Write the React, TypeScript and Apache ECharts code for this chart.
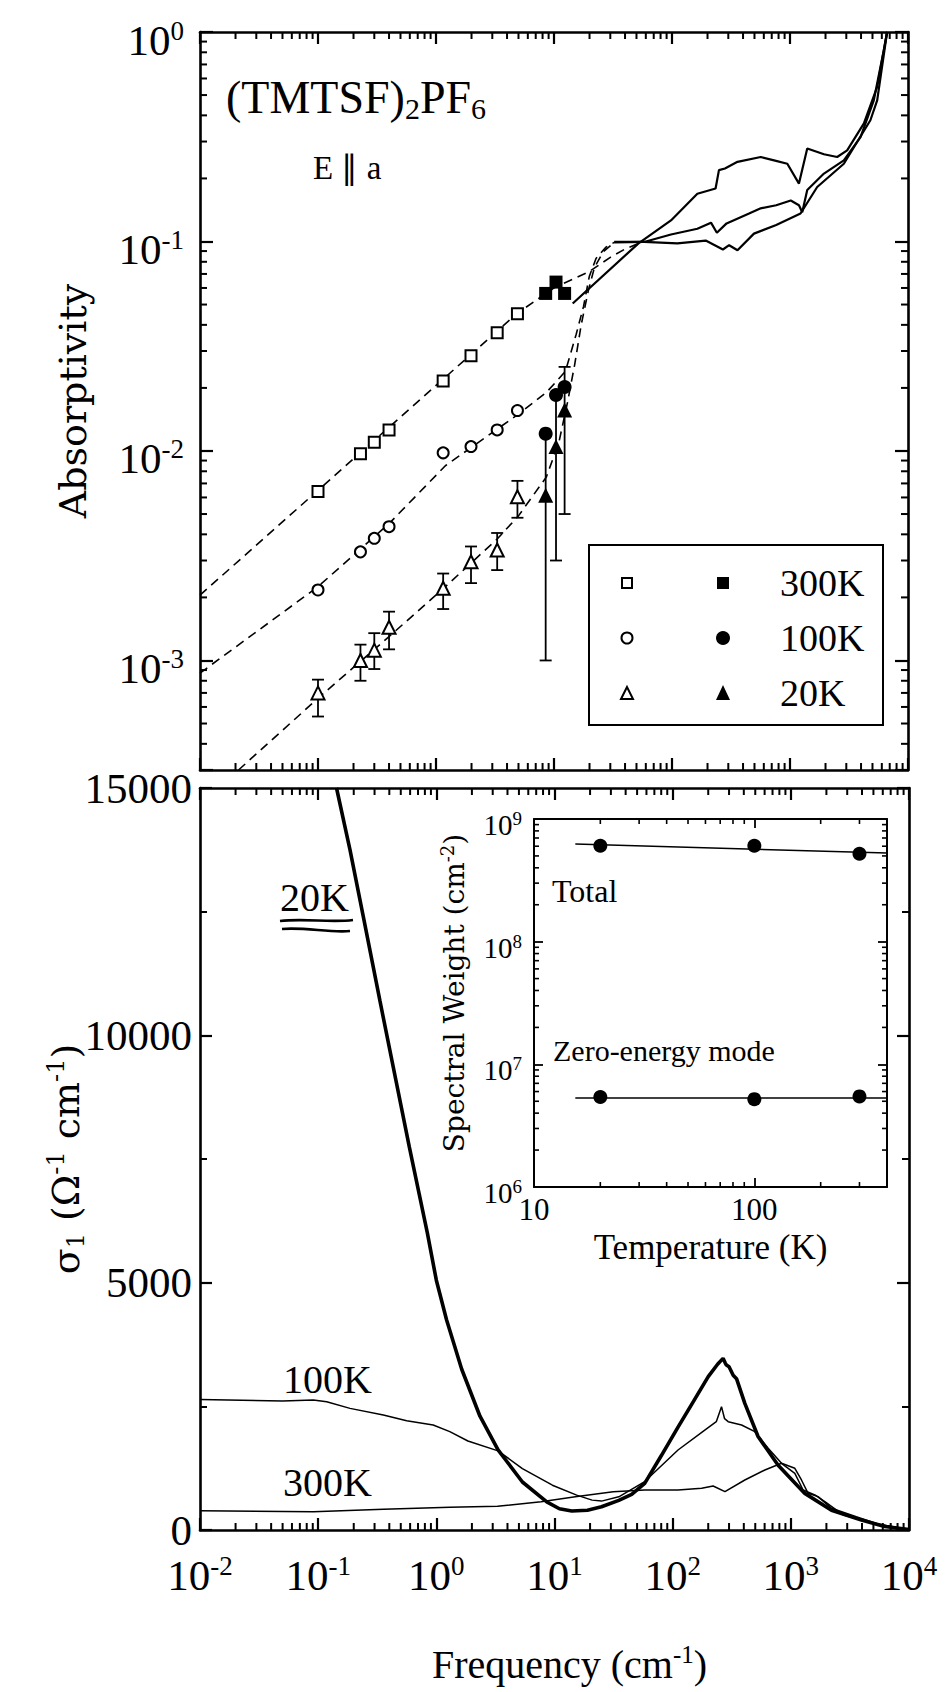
import React, { useEffect, useRef } from "react";
import * as echarts from "echarts";

const SERIF = "'Liberation Serif', 'Times New Roman', Times, serif";
const WIDE = "'DejaVu Serif', 'Liberation Serif', serif";
const INK = "#000";

// ---------- Absorptivity panel (upper) ----------
// microwave cavity frequencies (cm^-1), open symbols
const mwFreq = [0.1, 0.229, 0.3, 0.4, 1.15, 1.98, 3.3, 4.9];
const abs300 = [0.0064, 0.0097, 0.011, 0.0126, 0.0216, 0.0285, 0.0367, 0.0452];
const abs100 = [0.00217, 0.0033, 0.00383, 0.00435, 0.0098, 0.0105, 0.0126, 0.0156];
const abs20 = [0.0007, 0.001, 0.00112, 0.00144, 0.00221, 0.00296, 0.00337, 0.00604];
const abs20Lo = [0.00054, 0.0008, 0.00091, 0.00113, 0.00176, 0.00234, 0.0027, 0.0048];
const abs20Hi = [0.00081, 0.00119, 0.00135, 0.00171, 0.0026, 0.0035, 0.00406, 0.0072];

// quasi-optical frequencies (cm^-1), filled symbols
const qoFreq = [8.5, 10.4, 12.3];
const abs300Q = [0.0565, 0.064, 0.0565];
const abs100Q = [0.0121, 0.0185, 0.0202];
const abs20Q = [0.00615, 0.0105, 0.0157];
const abs20QLo = [0.001, 0.003, 0.005];
const abs20QHi = [0.012, 0.018, 0.0252];

// dashed model curves joining the low-frequency data to the infrared spectra
const fit300F = [0.01, 4.9, 10, 20, 30, 40, 52];
const fit300A = [0.00205, 0.0455, 0.06, 0.072, 0.084, 0.092, 0.098];
const fit100F = [0.01, 0.1, 0.4, 1.2, 5, 8.6, 12.5, 15.4, 17.8, 19.9, 22.7, 27.6, 32.4];
const fit100A = [0.00087, 0.00225, 0.0045, 0.0085, 0.015, 0.019, 0.024, 0.036, 0.049, 0.068, 0.083, 0.094, 0.099];
const fit20F = [0.0212, 0.1, 0.4, 1.15, 3.3, 5, 8.6, 11, 13, 15, 17, 19.5, 22, 26, 32.4];
const fit20A = [0.0003, 0.00066, 0.0013, 0.0022, 0.0038, 0.0049, 0.0075, 0.011, 0.017, 0.026, 0.04, 0.058, 0.075, 0.089, 0.099];

// infrared absorptivity spectra
const ir300F = [14.4, 52, 98, 164, 234, 250, 281, 359, 565, 733, 949, 1191, 1400, 1940, 2510, 3050, 4230, 5480, 6650];
const ir300A = [0.0506, 0.098, 0.126, 0.169, 0.179, 0.219, 0.223, 0.24, 0.253, 0.244, 0.235, 0.189, 0.278, 0.261, 0.253, 0.272, 0.366, 0.547, 1.0];
const ir100F = [32.4, 58, 98, 164, 214, 240, 290, 450, 565, 764, 1015, 1191, 1270, 1400, 1940, 2860, 3960, 5130, 6240, 6650];
const ir100A = [0.099, 0.0995, 0.108, 0.115, 0.123, 0.11, 0.122, 0.136, 0.144, 0.149, 0.157, 0.149, 0.138, 0.176, 0.211, 0.244, 0.315, 0.472, 0.818, 1.0];
const ir20F = [32.4, 58, 111, 193, 270, 305, 359, 495, 764, 1228, 1700, 2860, 4800, 5480, 6650];
const ir20A = [0.0995, 0.0995, 0.098, 0.101, 0.0916, 0.096, 0.0908, 0.109, 0.12, 0.136, 0.182, 0.235, 0.379, 0.472, 1.0];

// ---------- Optical conductivity panel (lower) ----------
const s20F = [0.143, 0.186, 0.241, 0.333, 0.59, 0.84, 1.0, 1.22, 1.64, 2.34, 3.33, 5.35, 8.6, 11, 14, 19, 25, 35, 45, 58, 80, 111, 150, 200, 240, 267, 278, 285, 300, 325, 347, 408, 528, 781, 1313, 2208, 3960, 6240, 10000];
const s20S = [15000, 13750, 12400, 10700, 7750, 6000, 5050, 4250, 3250, 2300, 1620, 970, 570, 430, 385, 400, 470, 600, 720, 944, 1500, 2080, 2600, 3100, 3350, 3470, 3380, 3335, 3300, 3130, 3060, 2560, 1890, 1310, 740, 400, 200, 70, 10];
const s100F = [0.01, 0.05, 0.091, 0.118, 0.186, 0.356, 0.561, 0.94, 1.3, 1.85, 3.33, 5.35, 9.6, 15.4, 20.8, 25, 35, 58, 111, 187, 234, 259, 275, 295, 383, 496, 643, 834, 1081, 1271, 1596, 1940, 2790, 5000, 10000];
const s100S = [2640, 2610, 2630, 2594, 2459, 2325, 2209, 2123, 1988, 1800, 1600, 1242, 906, 705, 604, 584, 671, 980, 1617, 2021, 2190, 2493, 2250, 2190, 2123, 1988, 1651, 1348, 1146, 809, 708, 572, 302, 134, 10];
const s300F = [0.01, 0.091, 0.356, 1.3, 3.3, 7.7, 15, 31.4, 58, 111, 176, 220, 277, 408, 603, 834, 1081, 1230, 1400, 1700, 2208, 3580, 5600, 10000];
const s300S = [391, 370, 418, 459, 480, 570, 671, 772, 809, 809, 843, 889, 775, 1011, 1213, 1348, 1247, 1011, 742, 674, 438, 268, 114, 10];

// ---------- Inset: spectral weight vs temperature ----------
const tempK = [20, 100, 300];
const swTotal = [6.05e8, 6.05e8, 5.21e8];
const swZero = [5.42e6, 5.2e6, 5.48e6];
const fitT = [15.4, 400];
const fitTotal = [6.26e8, 5.28e8];
const fitZero = [5.32e6, 5.32e6];

const pts = (xs: number[], ys: number[]) => xs.map((x, i) => [x, ys[i]]);

const isPow10 = (v: number) => Math.abs(Math.log10(v) - Math.round(Math.log10(v))) < 1e-6;
const pow10Label = (v: number) => (isPow10(v) ? `{b|10}{s|${Math.round(Math.log10(v))}}` : "");

function minorLogTicks(lo: number, hi: number): number[] {
  const out: number[] = [];
  for (let e = Math.floor(Math.log10(lo)); e <= Math.ceil(Math.log10(hi)); e++) {
    for (let m = 2; m <= 9; m++) {
      const v = m * Math.pow(10, e);
      if (v > lo * 1.0001 && v < hi * 0.9999) out.push(v);
    }
  }
  return out;
}

const bigRich = {
  b: { fontFamily: SERIF, fontSize: 43, lineHeight: 46, color: INK },
  s: { fontFamily: SERIF, fontSize: 27, lineHeight: 10, verticalAlign: "top", color: INK },
};
const smallRich = {
  b: { fontFamily: SERIF, fontSize: 29, lineHeight: 32, color: INK },
  s: { fontFamily: SERIF, fontSize: 19, lineHeight: 8, verticalAlign: "top", color: INK },
};

const line = (w: number) => ({ show: true, onZero: false, lineStyle: { color: INK, width: w } });
const tick = (len: number, w: number) => ({ show: true, inside: true, length: len, lineStyle: { color: INK, width: w } });
const noLabel = { show: false };
const noSplit = { show: false };

// minor ticks drawn along both edges of a grid, placed through the axis scales
function minorTickSeries(xi: number, yi: number, values: number[], dir: "x" | "y", lo: number, hi: number, len: number, width: number) {
  return {
    type: "custom",
    xAxisIndex: xi,
    yAxisIndex: yi,
    silent: true,
    z: 6,
    data: values.map((v) => (dir === "x" ? [v, lo] : [lo, v])),
    renderItem: (_p: any, api: any) => {
      const st = { stroke: INK, lineWidth: width };
      if (dir === "x") {
        const v = api.value(0);
        const a = api.coord([v, lo]);
        const b = api.coord([v, hi]);
        return {
          type: "group",
          children: [
            { type: "line", shape: { x1: a[0], y1: a[1], x2: a[0], y2: a[1] - len }, style: st },
            { type: "line", shape: { x1: b[0], y1: b[1], x2: b[0], y2: b[1] + len }, style: st },
          ],
        };
      }
      const v = api.value(1);
      const a = api.coord([lo, v]);
      const b = api.coord([hi, v]);
      return {
        type: "group",
        children: [
          { type: "line", shape: { x1: a[0], y1: a[1], x2: a[0] + len, y2: a[1] }, style: st },
          { type: "line", shape: { x1: b[0], y1: b[1], x2: b[0] - len, y2: b[1] }, style: st },
        ],
      };
    },
  };
}

function errorBars(xs: number[], lo: number[], hi: number[], cap: number) {
  return {
    type: "custom",
    xAxisIndex: 0,
    yAxisIndex: 0,
    silent: true,
    z: 7,
    data: xs.map((x, i) => [x, lo[i], hi[i]]),
    renderItem: (_p: any, api: any) => {
      const x = api.value(0);
      const a = api.coord([x, api.value(1)]);
      const b = api.coord([x, api.value(2)]);
      const st = { stroke: INK, lineWidth: 1.8 };
      return {
        type: "group",
        children: [
          { type: "line", shape: { x1: a[0], y1: a[1], x2: b[0], y2: b[1] }, style: st },
          { type: "line", shape: { x1: a[0] - cap, y1: a[1], x2: a[0] + cap, y2: a[1] }, style: st },
          { type: "line", shape: { x1: b[0] - cap, y1: b[1], x2: b[0] + cap, y2: b[1] }, style: st },
        ],
      };
    },
  };
}

function curve(xs: number[], ys: number[], width: number, xi: number, yi: number, dashed = false) {
  return {
    type: "line",
    xAxisIndex: xi,
    yAxisIndex: yi,
    silent: true,
    showSymbol: false,
    symbol: "none",
    clip: true,
    z: 4,
    lineStyle: { color: INK, width, opacity: 1, type: dashed ? [9, 6] : "solid" },
    data: pts(xs, ys),
  };
}

function markers(xs: number[], ys: number[], symbol: string, size: number, filled: boolean, xi = 0, yi = 0) {
  return {
    type: "scatter",
    xAxisIndex: xi,
    yAxisIndex: yi,
    silent: true,
    symbol,
    symbolSize: size,
    z: 10,
    itemStyle: filled
      ? { color: INK, borderWidth: 0, opacity: 1 }
      : { color: "#fff", borderColor: INK, borderWidth: 2, opacity: 1 },
    data: pts(xs, ys),
  };
}

function freqAxis(gridIndex: number, position: string, extra: any = {}) {
  return {
    type: "log",
    logBase: 10,
    gridIndex,
    position,
    min: 0.01,
    max: 10000,
    splitNumber: 6,
    axisLine: line(2.6),
    axisTick: tick(12, 2.2),
    splitLine: noSplit,
    axisLabel: noLabel,
    ...extra,
  };
}

function buildOption() {
  const grids = [
    { left: 200, top: 32, width: 708, height: 738, containLabel: false, outerBoundsMode: "none" },
    { left: 200, top: 788, width: 709, height: 742, containLabel: false, outerBoundsMode: "none" },
    { left: 534, top: 819, width: 353, height: 368, containLabel: false, outerBoundsMode: "none" },
  ];

  const xAxis = [
    freqAxis(0, "bottom"),
    freqAxis(0, "top"),
    freqAxis(1, "bottom", {
      axisLabel: { show: true, margin: 22, formatter: pow10Label, rich: bigRich },
      name: "{a|Frequency (cm}{s|-1}{a|)}",
      nameLocation: "middle",
      nameGap: 112,
      nameMoveOverlap: false,
      nameTextStyle: {
        padding: [0, 0, 0, 30],
        rich: {
          a: { fontFamily: SERIF, fontSize: 40, lineHeight: 44, color: INK },
          s: { fontFamily: SERIF, fontSize: 25, lineHeight: 8, verticalAlign: "top", color: INK },
        },
      },
    }),
    freqAxis(1, "top"),
    {
      type: "log",
      logBase: 10,
      gridIndex: 2,
      position: "bottom",
      min: 10,
      max: 400,
      axisLine: line(2),
      axisTick: tick(9, 1.8),
      splitLine: noSplit,
      axisLabel: {
        show: true,
        margin: 7,
        fontFamily: SERIF,
        fontSize: 31,
        color: INK,
        formatter: (v: number) => (isPow10(v) ? String(Math.round(v)) : ""),
      },
      name: "Temperature (K)",
      nameLocation: "middle",
      nameGap: 43,
      nameMoveOverlap: false,
      nameTextStyle: { fontFamily: SERIF, fontSize: 35, color: INK },
    },
    {
      type: "log",
      logBase: 10,
      gridIndex: 2,
      position: "top",
      min: 10,
      max: 400,
      axisLine: line(2),
      axisTick: tick(9, 1.8),
      splitLine: noSplit,
      axisLabel: noLabel,
    },
  ];

  const yAxis = [
    {
      type: "log",
      logBase: 10,
      gridIndex: 0,
      position: "left",
      min: 3e-4,
      max: 1,
      axisLine: line(2.6),
      axisTick: tick(13, 2.2),
      splitLine: noSplit,
      axisLabel: { show: true, margin: 16, formatter: pow10Label, rich: bigRich, padding: [16, 0, 0, 0] },
      name: "Absorptivity",
      nameLocation: "middle",
      nameRotate: 90,
      nameGap: 108,
      nameMoveOverlap: false,
      nameTextStyle: { fontFamily: WIDE, fontSize: 38, color: INK },
    },
    {
      type: "log",
      logBase: 10,
      gridIndex: 0,
      position: "right",
      min: 3e-4,
      max: 1,
      axisLine: line(2.6),
      axisTick: tick(13, 2.2),
      splitLine: noSplit,
      axisLabel: noLabel,
    },
    {
      type: "value",
      gridIndex: 1,
      position: "left",
      min: 0,
      max: 15000,
      interval: 5000,
      axisLine: line(2.6),
      axisTick: tick(12, 2.2),
      minorTick: { show: true, splitNumber: 2, length: 7, lineStyle: { color: INK, width: 2 } },
      splitLine: noSplit,
      minorSplitLine: noSplit,
      axisLabel: {
        show: true,
        margin: 8,
        fontFamily: SERIF,
        fontSize: 43,
        color: INK,
        formatter: (v: number) => String(v),
      },
      name: "{a|σ}{b|1}{a| (Ω}{s|-1}{a| cm}{s|-1}{a|)}",
      nameLocation: "middle",
      nameRotate: 90,
      nameGap: 112,
      nameMoveOverlap: false,
      nameTextStyle: {
        rich: {
          a: { fontFamily: WIDE, fontSize: 38, lineHeight: 44, color: INK },
          b: { fontFamily: WIDE, fontSize: 24, lineHeight: 8, verticalAlign: "bottom", color: INK },
          s: { fontFamily: WIDE, fontSize: 24, lineHeight: 8, verticalAlign: "top", color: INK },
        },
      },
    },
    {
      type: "value",
      gridIndex: 1,
      position: "right",
      min: 0,
      max: 15000,
      interval: 5000,
      axisLine: line(2.6),
      axisTick: tick(12, 2.2),
      minorTick: { show: true, splitNumber: 2, length: 7, lineStyle: { color: INK, width: 2 } },
      splitLine: noSplit,
      minorSplitLine: noSplit,
      axisLabel: noLabel,
    },
    {
      type: "log",
      logBase: 10,
      gridIndex: 2,
      position: "left",
      min: 1e6,
      max: 1e9,
      axisLine: line(2),
      axisTick: tick(9, 1.8),
      splitLine: noSplit,
      axisLabel: { show: true, margin: 12, formatter: pow10Label, rich: smallRich, padding: [12, 0, 0, 0] },
      name: "{a|Spectral Weight (cm}{s|-2}{a|)}",
      nameLocation: "middle",
      nameRotate: 90,
      nameGap: 64,
      nameMoveOverlap: false,
      nameTextStyle: {
        padding: [0, 0, 0, 20],
        rich: {
          a: { fontFamily: WIDE, fontSize: 28, lineHeight: 32, color: INK },
          s: { fontFamily: WIDE, fontSize: 18, lineHeight: 6, verticalAlign: "top", color: INK },
        },
      },
    },
    {
      type: "log",
      logBase: 10,
      gridIndex: 2,
      position: "right",
      min: 1e6,
      max: 1e9,
      axisLine: line(2),
      axisTick: tick(9, 1.8),
      splitLine: noSplit,
      axisLabel: noLabel,
    },
  ];

  const freqMinor = minorLogTicks(0.01, 10000);
  const series: any[] = [
    // upper panel
    curve(fit300F, fit300A, 1.6, 0, 0, true),
    curve(fit100F, fit100A, 1.6, 0, 0, true),
    curve(fit20F, fit20A, 1.6, 0, 0, true),
    curve(ir300F, ir300A, 2.2, 0, 0),
    curve(ir100F, ir100A, 2.2, 0, 0),
    curve(ir20F, ir20A, 2.2, 0, 0),
    errorBars(mwFreq, abs20Lo, abs20Hi, 6),
    errorBars(qoFreq, abs20QLo, abs20QHi, 6),
    markers(mwFreq, abs300, "rect", 11, false),
    markers(mwFreq, abs100, "circle", 11, false),
    markers(mwFreq, abs20, "triangle", 13, false),
    markers(qoFreq, abs300Q, "rect", 13, true),
    markers(qoFreq, abs100Q, "circle", 14, true),
    markers(qoFreq, abs20Q, "triangle", 15, true),
    minorTickSeries(0, 0, freqMinor, "x", 3e-4, 1, 7, 2),
    minorTickSeries(0, 0, minorLogTicks(3e-4, 1), "y", 0.01, 10000, 7, 2),
    // lower panel
    curve(s300F, s300S, 1.5, 2, 2),
    curve(s100F, s100S, 1.5, 2, 2),
    curve(s20F, s20S, 3.6, 2, 2),
    minorTickSeries(2, 2, freqMinor, "x", 0, 15000, 7, 2),
    // inset
    curve(fitT, fitTotal, 1.5, 4, 4),
    curve(fitT, fitZero, 1.5, 4, 4),
    markers(tempK, swTotal, "circle", 14, true, 4, 4),
    markers(tempK, swZero, "circle", 14, true, 4, 4),
    minorTickSeries(4, 4, minorLogTicks(10, 400), "x", 1e6, 1e9, 5, 1.6),
    minorTickSeries(4, 4, minorLogTicks(1e6, 1e9), "y", 10, 400, 5, 1.6),
  ];

  const txt = (x: number, y: number, text: string, size: number, family = SERIF) => ({
    type: "text",
    x,
    y,
    z: 120,
    silent: true,
    style: { text, fill: INK, fontFamily: family, fontSize: size, align: "left", verticalAlign: "middle" },
  });

  const lg = { open: { fill: "#fff", stroke: INK, lineWidth: 2 }, full: { fill: INK } };
  const graphic = [
    {
      type: "text",
      x: 226,
      y: 97,
      z: 120,
      silent: true,
      style: {
        text: "{a|(TMTSF)}{b|2}{a|PF}{b|6}",
        fill: INK,
        verticalAlign: "middle",
        rich: {
          a: { fontFamily: SERIF, fontSize: 46, lineHeight: 52, fill: INK },
          b: { fontFamily: SERIF, fontSize: 30, lineHeight: 10, verticalAlign: "bottom", fill: INK },
        },
      },
    },
    txt(313, 168, "E ∥ a", 33),
    // legend box
    { type: "rect", z: 110, silent: true, shape: { x: 589, y: 545, width: 294, height: 180 }, style: { fill: "#fff", stroke: INK, lineWidth: 2 } },
    { type: "rect", z: 115, silent: true, shape: { x: 622, y: 578, width: 10, height: 10 }, style: lg.open },
    { type: "rect", z: 115, silent: true, shape: { x: 717, y: 577, width: 12, height: 12 }, style: lg.full },
    { type: "circle", z: 115, silent: true, shape: { cx: 627, cy: 638, r: 5.5 }, style: lg.open },
    { type: "circle", z: 115, silent: true, shape: { cx: 723, cy: 638, r: 7 }, style: lg.full },
    { type: "polygon", z: 115, silent: true, shape: { points: [[627, 687], [621, 699], [633, 699]] }, style: lg.open },
    { type: "polygon", z: 115, silent: true, shape: { points: [[723, 685], [716, 700], [730, 700]] }, style: lg.full },
    txt(780, 583, "300K", 38),
    txt(780, 638, "100K", 38),
    txt(780, 693, "20K", 38),
    // lower panel labels
    txt(280, 897, "20K", 40),
    {
      type: "bezierCurve",
      z: 120,
      silent: true,
      shape: { x1: 280, y1: 921, x2: 353, y2: 920, cpx1: 305, cpy1: 918, cpx2: 330, cpy2: 923 },
      style: { stroke: INK, lineWidth: 2.6, fill: "none" },
    },
    {
      type: "bezierCurve",
      z: 120,
      silent: true,
      shape: { x1: 282, y1: 929, x2: 350, y2: 931, cpx1: 305, cpy1: 927, cpx2: 330, cpy2: 933 },
      style: { stroke: INK, lineWidth: 2.6, fill: "none" },
    },
    txt(283, 1379, "100K", 40),
    txt(283, 1482, "300K", 40),
    // inset labels
    txt(552, 891, "Total", 32),
    txt(553, 1050, "Zero-energy mode", 30),
  ];

  return {
    animation: false,
    backgroundColor: "#fff",
    textStyle: { fontFamily: SERIF, color: INK },
    grid: grids,
    xAxis,
    yAxis,
    series,
    graphic,
  };
}

export default function App() {
  const ref = useRef<HTMLDivElement>(null);
  useEffect(() => {
    const el = ref.current;
    if (!el) return;
    const chart = echarts.init(el, undefined, { renderer: "svg" });
    chart.setOption(buildOption() as any);
    return () => chart.dispose();
  }, []);
  return (
    <div
      ref={ref}
      style={{ position: "absolute", left: 0, top: 0, width: 945, height: 1692, background: "#fff" }}
    />
  );
}
